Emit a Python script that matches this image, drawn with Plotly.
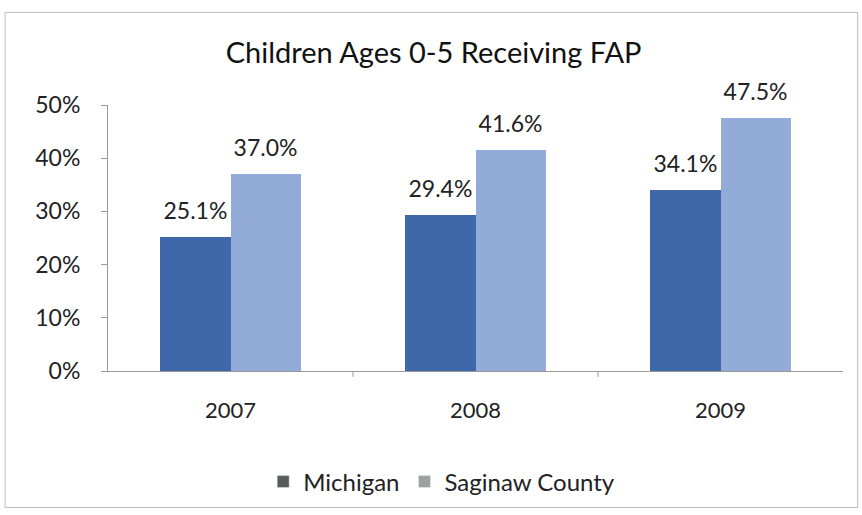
import plotly.graph_objects as go

years = ["2007", "2008", "2009"]
michigan = [0.251, 0.294, 0.341]
saginaw = [0.370, 0.416, 0.475]

xpos = list(range(len(years)))
w = 0.286
FONT = "Lato"
TXT = "#222222"

fig = go.Figure()
series = [
    ("Michigan", michigan, -w / 2, "#3f68aa", "#5a5a5a"),
    ("Saginaw County", saginaw, w / 2, "#92abd8", "#a0a0a0"),
]
for name, vals, off, col, legcol in series:
    xs = [p + off for p in xpos]
    fig.add_trace(go.Bar(
        x=xs, y=vals, width=w, name=name, showlegend=False,
        marker=dict(color=col, line=dict(width=0)),
    ))
    fig.add_trace(go.Scatter(
        x=xs, y=vals, mode="markers+text", showlegend=False, hoverinfo="skip",
        marker=dict(size=18, opacity=0),
        text=[f"{v*100:.1f}%" for v in vals], textposition="top center",
        textfont=dict(size=23, color=TXT, family=FONT), cliponaxis=False,
    ))
for name, vals, off, col, legcol in series:
    fig.add_trace(go.Bar(x=[None], y=[None], name=name, marker=dict(color=legcol)))

fig.update_layout(
    width=862, height=515,
    margin=dict(l=108, r=19, t=105, b=143),
    paper_bgcolor="white", plot_bgcolor="white",
    font=dict(family=FONT, size=23, color=TXT),
    title=dict(text="Children Ages 0-5 Receiving FAP", x=0.503, xanchor="center",
               y=1 - 53 / 515, yanchor="middle",
               font=dict(size=29, color="#111111", family=FONT)),
    barmode="overlay",
    showlegend=True,
    legend=dict(orientation="h", x=0.454, xanchor="center", y=-0.412, yanchor="middle",
                font=dict(size=24, color=TXT), itemwidth=30),
    xaxis=dict(range=[-0.5, 2.5], tickvals=xpos, ticktext=years, showgrid=False,
               showline=True, linecolor="#999999", linewidth=1, ticks="",
               zeroline=False, ticklabelstandoff=20, tickfont=dict(size=22)),
    yaxis=dict(range=[0, 0.5], dtick=0.1, tickformat=".0%", showgrid=False,
               showline=True, linecolor="#999999", linewidth=1, ticks="outside",
               ticklen=6, tickcolor="#999999", zeroline=False, ticklabelstandoff=16),
    bargap=0,
)

# tick marks between categories
for b in [0.5, 1.5]:
    fig.add_shape(type="line", xref="x", yref="paper", x0=b, x1=b, y0=0, y1=-0.022,
                  line=dict(color="#999999", width=1))

# outer border
fig.add_shape(type="rect", xref="paper", yref="paper",
              x0=-0.140, x1=1.020, y0=-0.513, y1=1.348,
              line=dict(color="#bbbbbb", width=1), fillcolor="rgba(0,0,0,0)")

fig.write_html("out.html", config={"displayModeBar": False},
               post_script="document.body.style.margin='0';")
